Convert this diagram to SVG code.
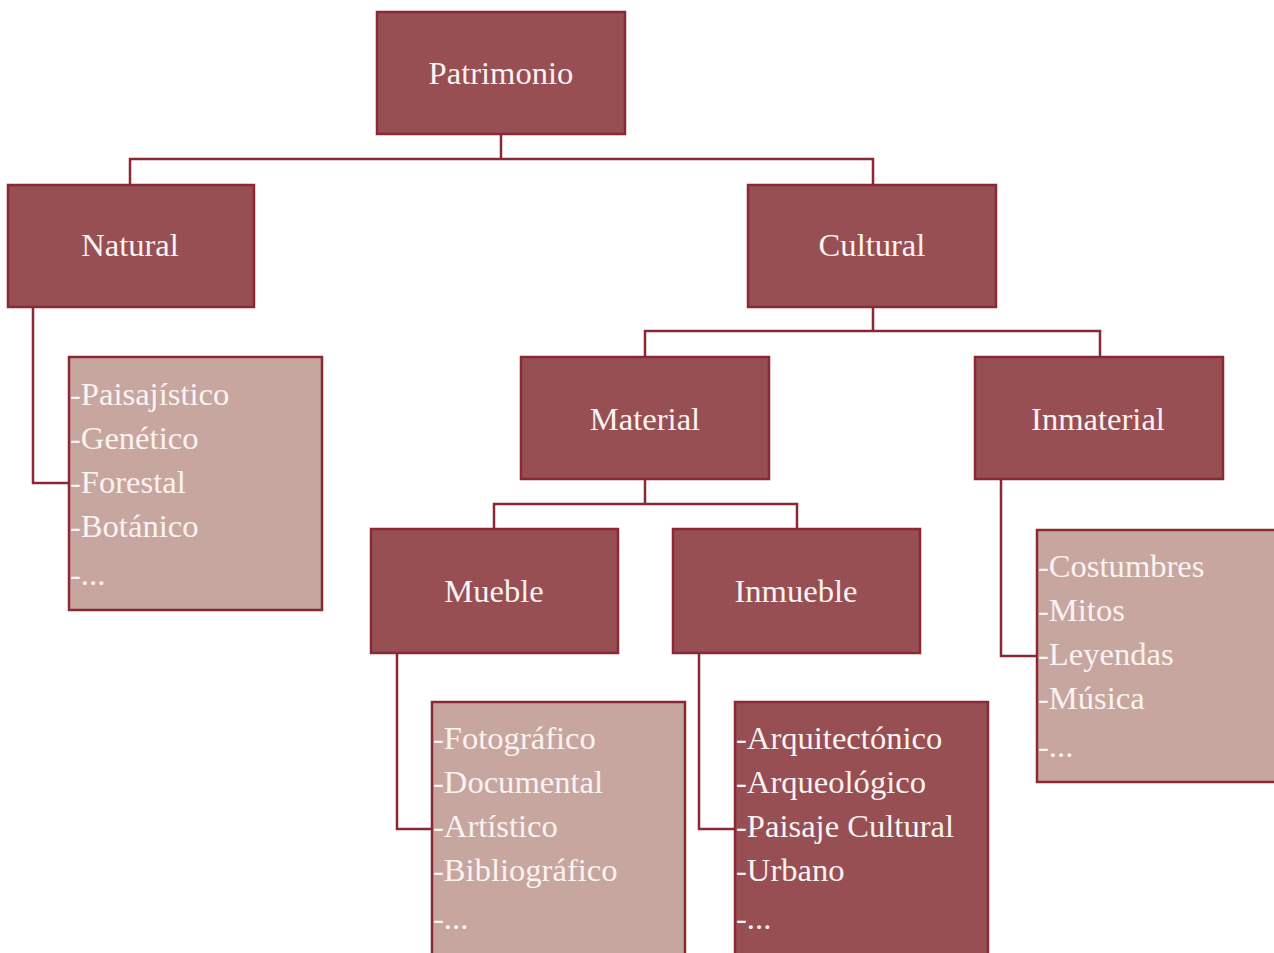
<svg xmlns="http://www.w3.org/2000/svg" width="1274" height="953" viewBox="0 0 1274 953">
<style>
.dark{fill:#974F53;stroke:#8A2833;stroke-width:2.5}
.light{fill:#C8A6A0;stroke:#8A2833;stroke-width:2.5}
.t{font-family:"Liberation Serif","Times New Roman",serif;font-size:32.6px;fill:#FBF3F1}
.c{text-anchor:middle}
.conn{fill:none;stroke:#8A2833;stroke-width:2.5}
</style>
<rect width="1274" height="953" fill="#ffffff"/>
<g id="connectors">
<path class="conn" d="M501,134 V159 M130,185 V159 H873 V185"/>
<path class="conn" d="M873,307 V331 M645,357 V331 H1100 V357"/>
<path class="conn" d="M645,479 V504 M494,529 V504 H797 V529"/>
<path class="conn" d="M33,307 V483 H69"/>
<path class="conn" d="M1001,479 V656 H1037"/>
<path class="conn" d="M397,653 V829 H432"/>
<path class="conn" d="M699,653 V829 H735"/>
</g>
<g id="patrimonio"><rect class="dark" x="377" y="12" width="248" height="122"/><text class="t c" x="501" y="84">Patrimonio</text></g>
<g id="natural"><rect class="dark" x="8" y="185" width="246" height="122"/><text class="t c" x="130" y="256">Natural</text></g>
<g id="cultural"><rect class="dark" x="748" y="185" width="248" height="122"/><text class="t c" x="872" y="256">Cultural</text></g>
<g id="material"><rect class="dark" x="521" y="357" width="248" height="122"/><text class="t c" x="645" y="430">Material</text></g>
<g id="inmaterial"><rect class="dark" x="975" y="357" width="248" height="122"/><text class="t c" x="1098" y="430">Inmaterial</text></g>
<g id="mueble"><rect class="dark" x="371" y="529" width="247" height="124"/><text class="t c" x="494" y="602">Mueble</text></g>
<g id="inmueble"><rect class="dark" x="673" y="529" width="247" height="124"/><text class="t c" x="796" y="602">Inmueble</text></g>
<g id="natural-list"><rect class="light" x="69" y="357" width="253" height="253"/>
<text class="t" x="70" y="405">-Paisajístico</text>
<text class="t" x="70" y="449">-Genético</text>
<text class="t" x="70" y="493">-Forestal</text>
<text class="t" x="70" y="537">-Botánico</text>
<text class="t" x="70" y="585">-...</text></g>
<g id="inmaterial-list"><rect class="light" x="1037" y="530" width="240" height="252"/>
<text class="t" x="1038" y="577">-Costumbres</text>
<text class="t" x="1038" y="621">-Mitos</text>
<text class="t" x="1038" y="665">-Leyendas</text>
<text class="t" x="1038" y="709">-Música</text>
<text class="t" x="1038" y="757">-...</text></g>
<g id="mueble-list"><rect class="light" x="432" y="702" width="253" height="260"/>
<text class="t" x="433" y="749">-Fotográfico</text>
<text class="t" x="433" y="793">-Documental</text>
<text class="t" x="433" y="837">-Artístico</text>
<text class="t" x="433" y="881">-Bibliográfico</text>
<text class="t" x="433" y="929">-...</text></g>
<g id="inmueble-list"><rect class="dark" x="735" y="702" width="253" height="260"/>
<text class="t" x="736" y="749">-Arquitectónico</text>
<text class="t" x="736" y="793">-Arqueológico</text>
<text class="t" x="736" y="837">-Paisaje Cultural</text>
<text class="t" x="736" y="881">-Urbano</text>
<text class="t" x="736" y="929">-...</text></g>
</svg>
